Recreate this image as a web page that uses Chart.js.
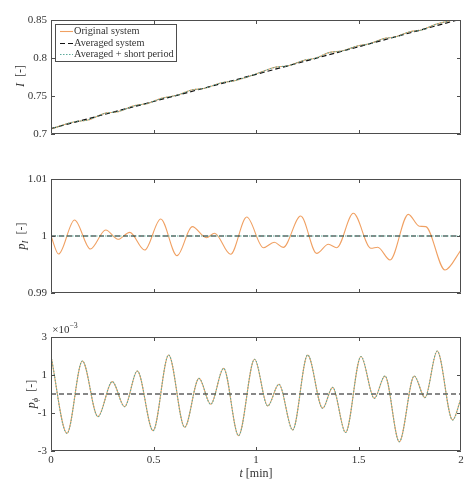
<!DOCTYPE html>
<html>
<head>
<meta charset="utf-8">
<script src="https://cdn.jsdelivr.net/npm/chart.js@4.4.0/dist/chart.umd.min.js"></script>
<style>
    body { margin: 0; background: #fff; }
    #wrap { position: relative; width: 473px; height: 480px; }
    #wrap canvas { position: absolute; left: 0; top: 0; }
</style>
</head>
<body>
<div id="wrap">
    <canvas id="chartI" width="473" height="480"></canvas>
    <canvas id="chartPI" width="473" height="480"></canvas>
    <canvas id="chartPPhi" width="473" height="480"></canvas>
</div>
<script>
// ---- data ----
const xTicks = [0, 0.5, 1, 1.5, 2];
const xTickLabels = ['0', '0.5', '1', '1.5', '2'];

// I [-]
const timeI = [0, 0.115, 0.18, 0.262, 0.327, 0.408, 0.473, 0.538, 0.62, 0.684, 0.75, 0.831, 0.896, 1.0,
    1.093, 1.158, 1.239, 1.288, 1.361, 1.418, 1.499, 1.548, 1.629, 1.678, 1.751, 1.808, 1.881, 1.946, 2.0];
const valuesI = [0.7066, 0.7162, 0.7184, 0.7272, 0.7294, 0.7373, 0.7403, 0.7469, 0.7513, 0.7579, 0.7601, 0.7675, 0.7701, 0.779,
    0.7878, 0.7899, 0.7974, 0.7996, 0.8075, 0.8092, 0.8162, 0.8184, 0.8259, 0.8276, 0.8346, 0.8368, 0.8447, 0.849, 0.8525];
const timeIAvg = [0, 1, 2];
const valuesIAvg = [0.7072, 0.7785, 0.8512];
const ticksI = [0.7, 0.75, 0.8, 0.85];
const tickLabelsI = ['0.7', '0.75', '0.8', '0.85'];

// p_I [-]
const timePI = [0, 0.037, 0.115, 0.192, 0.267, 0.327, 0.384, 0.457, 0.535, 0.615, 0.689, 0.758, 0.798, 0.876, 0.955,
    1.036, 1.089, 1.133, 1.218, 1.296, 1.353, 1.394, 1.475, 1.561, 1.594, 1.654, 1.743, 1.797, 1.828, 1.922, 2.0];
const valuesPI = [1.0, 0.99684, 1.00281, 0.99772, 1.00105, 0.99942, 1.00064, 0.99754, 1.00298, 0.99655, 1.00164, 0.9997, 1.00047, 0.99679, 1.00333,
    0.99795, 0.9989, 0.99801, 1.00351, 0.99696, 0.99854, 0.99795, 1.00398, 0.99784, 0.99802, 0.99579, 1.0038, 1.0017, 1.00165, 0.99404, 0.99754];
const timePIAvg = [0, 2];
const valuesPIAvg = [1, 1];
const ticksPI = [0.99, 1, 1.01];
const tickLabelsPI = ['0.99', '1', '1.01'];

// p_phi [-] (x 10^-3)
const timePPhi = [0, 0.078, 0.153, 0.229, 0.299, 0.359, 0.421, 0.498, 0.574, 0.652, 0.722, 0.779, 0.842, 0.915, 0.993,
    1.057, 1.112, 1.179, 1.252, 1.325, 1.374, 1.437, 1.512, 1.577, 1.629, 1.699, 1.772, 1.824, 1.884, 1.959, 2.0];
const valuesPPhi = [2.0, -2.07, 1.74, -1.19, 0.65, -0.67, 1.21, -1.93, 2.05, -1.75, 0.82, -0.54, 1.35, -2.19, 1.83,
    -0.63, 0.51, -1.89, 2.05, -0.75, 0.35, -2.03, 1.97, -0.23, 0.95, -2.51, 0.95, -0.19, 2.26, -1.37, -0.23];
const timePPhiAvg = [0, 2];
const valuesPPhiAvg = [0, 0];
const ticksPPhi = [-3, -1, 1, 3];
const tickLabelsPPhi = ['-3', '-1', '1', '3'];

const seriesNames = ['Original system', 'Averaged system', 'Averaged + short period'];

// ---- styling ----
const FONT = 'Liberation Serif';
const TEXT = '#333';
const AXIS = '#4d4d4d';
const ORANGE = '#f0a062';
const TEAL = '#5eab9c';

function pts(xs, ys) {
    return xs.map((x, i) => ({ x: x, y: ys[i] }));
}

// draw a run of text pieces (italic / subscript / superscript) centred on 0,0
function drawRich(ctx, parts, size) {
    const pieces = parts.map(p => {
        const s = p.sub || p.sup ? size * 0.72 : size;
        const font = (p.italic ? 'italic ' : '') + s + 'px "' + FONT + '"';
        ctx.font = font;
        return { text: p.text, font: font, w: ctx.measureText(p.text).width, dy: p.sub ? size * 0.3 : (p.sup ? -size * 0.4 : 0) };
    });
    const total = pieces.reduce((a, p) => a + p.w, 0);
    let x = -total / 2;
    ctx.textBaseline = 'middle';
    ctx.textAlign = 'left';
    pieces.forEach(p => {
        ctx.font = p.font;
        ctx.fillText(p.text, x, p.dy);
        x += p.w;
    });
}

const axesFrame = {
    id: 'axesFrame',
    afterDraw(chart, args, opts) {
        const { ctx, chartArea: a, scales } = chart;
        ctx.save();
        ctx.strokeStyle = AXIS;
        ctx.lineWidth = 1;
        ctx.beginPath();
        ctx.rect(a.left + 0.5, a.top + 0.5, a.right - a.left - 1, a.bottom - a.top - 1);
        // inward ticks on all four sides
        const len = 4;
        xTicks.slice(1, -1).forEach(v => {
            const px = Math.round(scales.x.getPixelForValue(v)) + 0.5;
            ctx.moveTo(px, a.bottom); ctx.lineTo(px, a.bottom - len);
            ctx.moveTo(px, a.top); ctx.lineTo(px, a.top + len);
        });
        opts.yTicks.forEach(v => {
            const py = Math.round(scales.y.getPixelForValue(v)) + 0.5;
            ctx.moveTo(a.left, py); ctx.lineTo(a.left + len, py);
            ctx.moveTo(a.right, py); ctx.lineTo(a.right - len, py);
        });
        ctx.stroke();

        ctx.fillStyle = TEXT;
        // y label
        ctx.save();
        ctx.translate(opts.yLabelX, (a.top + a.bottom) / 2 + (opts.yLabelDy || 0));
        ctx.rotate(-Math.PI / 2);
        drawRich(ctx, opts.yLabel, 12);
        ctx.restore();

        if (opts.xLabel) {
            ctx.save();
            ctx.translate((a.left + a.right) / 2, 474);
            drawRich(ctx, opts.xLabel, 12);
            ctx.restore();
        }

        if (opts.exponent) {
            ctx.save();
            ctx.translate(a.left + 14, a.top - 7);
            drawRich(ctx, opts.exponent, 11);
            ctx.restore();
        }

        if (opts.legend) {
            const bx = a.left + 4, by = a.top + 4, bw = 122, bh = 38;
            ctx.fillStyle = '#fff';
            ctx.fillRect(bx, by, bw, bh);
            ctx.strokeStyle = AXIS;
            ctx.strokeRect(bx + 0.5, by + 0.5, bw - 1, bh - 1);
            chart.data.datasets.forEach((ds, i) => {
                const y = Math.round(by + 7 + i * 11.5) + 0.5;
                ctx.strokeStyle = ds.borderColor;
                ctx.lineWidth = ds.borderWidth;
                ctx.setLineDash(ds.borderDash || []);
                ctx.beginPath();
                ctx.moveTo(bx + 5, y); ctx.lineTo(bx + 18, y);
                ctx.stroke();
                ctx.setLineDash([]);
                ctx.fillStyle = TEXT;
                ctx.font = '10.3px "' + FONT + '"';
                ctx.textAlign = 'left';
                ctx.textBaseline = 'middle';
                ctx.fillText(ds.label, bx + 19, y);
            });
        }
        ctx.restore();
    }
};

function makeChart(id, sets, yMin, yMax, yTicks, yTickLabels, showX, padTop, padBottom, frameOpts) {
    return new Chart(document.getElementById(id), {
        type: 'line',
        data: {
            datasets: [
                {
                    label: seriesNames[0],
                    data: sets[0],
                    borderColor: ORANGE,
                    borderWidth: 1.1,
                    order: 3
                },
                {
                    label: seriesNames[1],
                    data: sets[1],
                    borderColor: '#111',
                    borderWidth: 1.2,
                    borderDash: [5, 3],
                    order: 2
                },
                {
                    label: seriesNames[2],
                    data: sets[2],
                    borderColor: TEAL,
                    borderWidth: 1.1,
                    borderDash: [1.5, 1.5],
                    order: 1
                }
            ]
        },
        options: {
            responsive: false,
            animation: false,
            events: [],
            elements: {
                point: { radius: 0 },
                line: { cubicInterpolationMode: 'monotone', fill: false }
            },
            layout: { padding: { left: 0, right: 12, top: padTop, bottom: padBottom } },
            plugins: {
                legend: { display: false },
                tooltip: { enabled: false },
                axesFrame: frameOpts
            },
            scales: {
                x: {
                    type: 'linear',
                    min: 0,
                    max: 2,
                    display: showX,
                    grid: { display: false, drawTicks: false },
                    border: { display: false },
                    afterBuildTicks: s => { s.ticks = xTicks.map(v => ({ value: v })); },
                    afterFit: s => { s.height = showX ? 29 : 0; },
                    ticks: {
                        autoSkip: false,
                        maxRotation: 0,
                        padding: 3,
                        color: TEXT,
                        font: { family: FONT, size: 11 },
                        callback: (v, i) => xTickLabels[i]
                    }
                },
                y: {
                    type: 'linear',
                    min: yMin,
                    max: yMax,
                    grid: { display: false, drawTicks: false },
                    border: { display: false },
                    afterBuildTicks: s => { s.ticks = yTicks.map(v => ({ value: v })); },
                    afterFit: s => { s.width = 51; },
                    ticks: {
                        autoSkip: false,
                        padding: 4,
                        color: TEXT,
                        font: { family: FONT, size: 11 },
                        callback: (v, i) => yTickLabels[i]
                    }
                }
            }
        },
        plugins: [axesFrame]
    });
}

document.addEventListener('DOMContentLoaded', function () {
    // I
    makeChart('chartI',
        [pts(timeI, valuesI), pts(timeIAvg, valuesIAvg), pts(timeI, valuesI)],
        0.7, 0.85, ticksI, tickLabelsI, false, 20, 480 - 134,
        { yTicks: ticksI, yLabelX: 21, yLabelDy: -1, yLabel: [{ text: 'I', italic: true }, { text: '  [-]' }], legend: true });

    // p_I
    makeChart('chartPI',
        [pts(timePI, valuesPI), pts(timePIAvg, valuesPIAvg), pts(timePIAvg, valuesPIAvg)],
        0.99, 1.01, ticksPI, tickLabelsPI, false, 179, 480 - 293,
        { yTicks: ticksPI, yLabelX: 22, yLabel: [{ text: 'p', italic: true }, { text: 'I', italic: true, sub: true }, { text: '  [-]' }] });

    // p_phi
    makeChart('chartPPhi',
        [pts(timePPhi, valuesPPhi), pts(timePPhiAvg, valuesPPhiAvg), pts(timePPhi, valuesPPhi)],
        -3, 3, ticksPPhi, tickLabelsPPhi, true, 337, 0,
        { yTicks: ticksPPhi, yLabelX: 32, yLabel: [{ text: 'p', italic: true }, { text: '\u03d5', italic: true, sub: true }, { text: '  [-]' }],
          xLabel: [{ text: 't', italic: true }, { text: ' [min]' }],
          exponent: [{ text: '\u00d710' }, { text: '\u22123', sup: true }] });
});
</script>
</body>
</html>
